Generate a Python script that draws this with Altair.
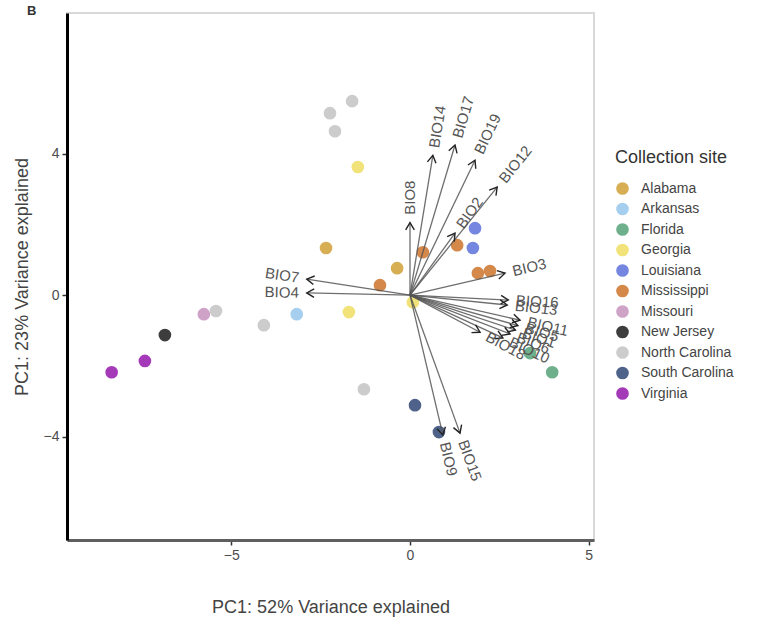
import altair as alt
import pandas as pd
import numpy as np

# ---- sample scores (PC1, PC2) ----
sites = [
    "Virginia", "Virginia", "New Jersey", "Missouri", "North Carolina",
    "North Carolina", "Arkansas", "Georgia", "Alabama", "Alabama",
    "Mississippi", "Georgia", "North Carolina", "North Carolina", "North Carolina",
    "North Carolina", "South Carolina", "South Carolina", "Louisiana", "Louisiana",
    "Mississippi", "Mississippi", "Mississippi", "Mississippi", "Georgia",
    "Florida", "Florida",
]
pc1 = [-8.35, -7.42, -6.86, -5.77, -5.43, -4.09, -3.17, -1.71, -2.35, -0.36,
       -0.84, -1.46, -2.24, -1.62, -2.10, -1.29, 0.14, 0.81, 1.82, 1.76,
       0.36, 1.32, 1.90, 2.24, 0.08, 3.36, 3.98]
pc2 = [-2.18, -1.86, -1.13, -0.54, -0.45, -0.85, -0.54, -0.48, 1.33, 0.76,
       0.28, 3.62, 5.14, 5.48, 4.63, -2.66, -3.11, -3.87, 1.89, 1.33,
       1.21, 1.41, 0.62, 0.68, -0.20, -1.64, -2.18]

site_order = ["Alabama", "Arkansas", "Florida", "Georgia", "Louisiana", "Mississippi",
              "Missouri", "New Jersey", "North Carolina", "South Carolina", "Virginia"]
site_colors = ["#D8AE55", "#A6CFEF", "#6FB08C", "#F1E37A", "#7486E0", "#D4884A",
               "#CFA3C8", "#3D3D3D", "#CCCCCC", "#4F6289", "#A43AB8"]

# ---- variable loadings (arrow tips) ----
var_names = ["BIO8", "BIO14", "BIO17", "BIO19", "BIO12", "BIO2", "BIO3", "BIO16",
             "BIO13", "BIO11", "BIO5", "BIO1", "BIO6", "BIO10", "BIO18", "BIO9",
             "BIO15", "BIO7", "BIO4"]
load_x = [0.0, 0.64, 1.26, 1.82, 2.44, 1.26, 2.66, 2.75, 2.72, 3.08, 3.02, 2.95,
          2.80, 2.60, 1.96, 0.92, 1.40, -2.89, -2.89]
load_y = [2.05, 3.95, 4.24, 3.81, 3.05, 1.75, 0.62, -0.14, -0.28, -0.71, -0.86, -0.99,
          -1.10, -1.21, -1.05, -3.95, -3.90, 0.45, 0.06]

x_domain = [-9.6, 5.15]
y_domain = [-6.92, 7.97]

points = pd.DataFrame({"site": sites, "PC1": pc1, "PC2": pc2})

ax = np.array(load_x)
ay = np.array(load_y)
theta = np.degrees(np.arctan2(ay, ax))
r = np.hypot(ax, ay)
arrows = pd.DataFrame({
    "var": var_names,
    "PC1": ax,
    "PC2": ay,
    "x0": 0.0,
    "y0": 0.0,
    "head_angle": (90 - theta) % 360,
    "lx": ax + 0.22 * ax / r,
    "ly": ay + 0.22 * ay / r,
    "text_angle": np.where(ax >= 0, (-theta) % 360, (180 - theta) % 360),
    "side": np.where(ax >= 0, "right", "left"),
})

x_axis = alt.Axis(values=[-5, 0, 5], title="PC1: 52% Variance explained",
                  domainColor="#5f5f5f", domainWidth=3, tickColor="#333333",
                  tickWidth=1.5, tickSize=5, labelPadding=3, labelFontSize=14,
                  labelColor="#4d4d4d", titleFontSize=18, titleColor="#444444",
                  titleFontWeight="normal", titlePadding=36, grid=False)
y_axis = alt.Axis(values=[-4, 0, 4], title="PC1: 23% Variance explained",
                  domainColor="#000000", domainWidth=3, tickColor="#333333",
                  tickWidth=1.5, tickSize=5, labelPadding=3, labelFontSize=14,
                  labelColor="#4d4d4d", titleFontSize=18, titleColor="#444444",
                  titleFontWeight="normal", titlePadding=12, grid=False)

xs = alt.Scale(domain=x_domain, nice=False, zero=False)
ys = alt.Scale(domain=y_domain, nice=False, zero=False)

pts = alt.Chart(points).mark_circle(size=160, opacity=1).encode(
    x=alt.X("PC1:Q", scale=xs, axis=x_axis),
    y=alt.Y("PC2:Q", scale=ys, axis=y_axis),
    color=alt.Color("site:N", scale=alt.Scale(domain=site_order, range=site_colors),
                    legend=alt.Legend(title="Collection site", orient="none",
                                      legendX=548, legendY=136, padding=0,
                                      titleFontSize=18, titleFontWeight="normal",
                                      titleColor="#333333", titlePadding=14,
                                      labelFontSize=14, labelColor="#444444",
                                      symbolSize=160, symbolType="circle",
                                      rowPadding=5.5, labelOffset=11)),
)

lines = alt.Chart(arrows).mark_rule(color="#555555", strokeWidth=1.3, opacity=0.85).encode(
    x=alt.X("PC1:Q", scale=xs, axis=x_axis),
    y=alt.Y("PC2:Q", scale=ys, axis=y_axis),
    x2="x0:Q",
    y2="y0:Q",
)

heads = alt.Chart(arrows).mark_point(shape="M-0.5,0.85L0,0L0.5,0.85", filled=False,
                                     size=300, color="#222222", strokeWidth=1.4,
                                     opacity=1).encode(
    x=alt.X("PC1:Q", scale=xs, axis=x_axis),
    y=alt.Y("PC2:Q", scale=ys, axis=y_axis),
    angle=alt.Angle("head_angle:Q", scale=None),
)

lab_r = alt.Chart(arrows).transform_filter(alt.datum.side == "right").mark_text(
    align="left", baseline="middle", fontSize=15, color="#555555",
    font="Liberation Sans").encode(
    x=alt.X("lx:Q", scale=xs, axis=x_axis),
    y=alt.Y("ly:Q", scale=ys, axis=y_axis),
    text="var:N",
    angle=alt.Angle("text_angle:Q", scale=None),
)
lab_l = alt.Chart(arrows).transform_filter(alt.datum.side == "left").mark_text(
    align="right", baseline="middle", fontSize=15, color="#555555",
    font="Liberation Sans").encode(
    x=alt.X("lx:Q", scale=xs, axis=x_axis),
    y=alt.Y("ly:Q", scale=ys, axis=y_axis),
    text="var:N",
    angle=alt.Angle("text_angle:Q", scale=None),
)

chart = alt.layer(pts, lines, heads, lab_r, lab_l).properties(
    width=527, height=527,
    padding={"left": 67, "top": 13, "right": 174, "bottom": 80},
    autosize=alt.AutoSizeParams(type="none"),
    title=alt.TitleParams("B", anchor="start", frame="group", dx=-40, dy=11, offset=0,
                          baseline="middle", fontSize=13, fontWeight="bold",
                          color="#333333", font="Liberation Sans"),
).configure(font="Liberation Sans").configure_view(
    stroke="#d9d9d9", strokeWidth=2
)

chart.save("out.html", embed_options={"renderer": "svg", "actions": False})
